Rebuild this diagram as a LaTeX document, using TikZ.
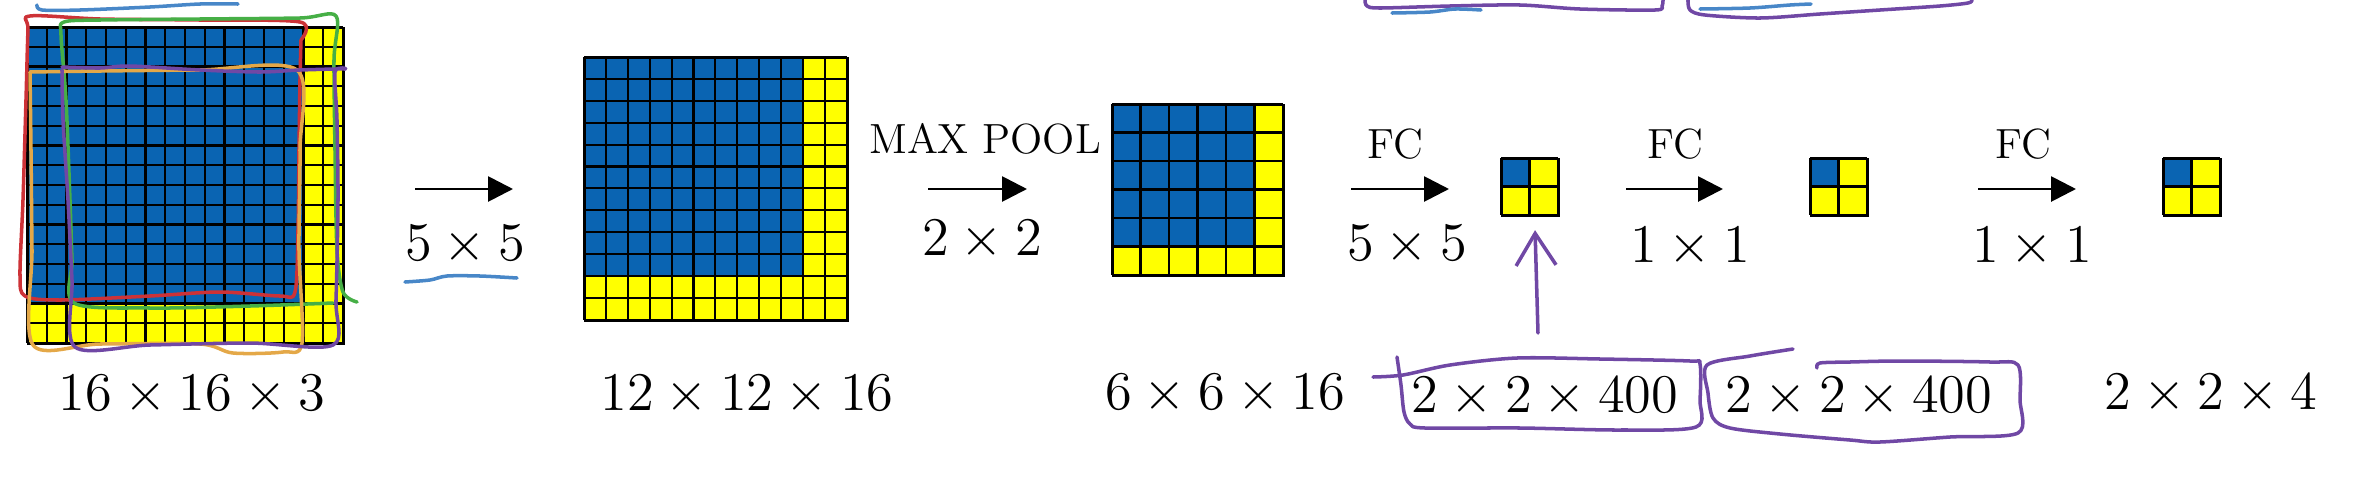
\RequirePackage{fix-cm}
\documentclass[tikz,border=0pt]{standalone}
\usepackage{amsmath}
\usepackage{tikz}
\usetikzlibrary{arrows.meta, positioning}
\usepackage{xcolor}

\definecolor{mapblue}{RGB}{10,100,178}
\definecolor{mapyellow}{RGB}{255,255,0}
\definecolor{penred}{RGB}{205,50,55}
\definecolor{pengreen}{RGB}{70,175,70}
\definecolor{penorange}{RGB}{228,168,72}
\definecolor{penpurple}{RGB}{112,72,165}
\definecolor{penblue}{RGB}{72,135,200}

\begin{document}
\begin{tikzpicture}[
        x=0.1mm, y=-0.1mm,
        cellline/.style={
          draw=black,
          line width=0.6pt
        },
        fmap/.style={
          rectangle,
          inner sep=0pt,
          draw=black,
          line width=0.6pt
        },
        arrow/.style={
          -{Triangle[length=2.5mm, width=2.5mm]},
          line width=0.8pt
        },
        dimlabel/.style={
          anchor=base,
          font=\fontsize{15.5}{18}\selectfont
        },
        oplabel/.style={
          anchor=base,
          font=\fontsize{12}{14}\selectfont
        },
        pen/.style={
          line width=1pt,
          line cap=round,
          line join=round
        }
      ]

      \useasboundingbox (0,0) rectangle (2378,484);

      % Feature maps: name / left / top / cells / cell size / blue cells
      \foreach \fm/\gx/\gy/\n/\s/\nb in {input/27/27/16/19.75/14, conv/584/57/12/21.9/10, pool/1112/104/6/28.5/5, fcone/1501/158/2/28.5/1, fctwo/1810/158/2/28.5/1, output/2163/158/2/28.5/1}{
        \fill[mapyellow] (\gx,\gy) rectangle ++(\n*\s,\n*\s);
        \fill[mapblue] (\gx,\gy) rectangle ++(\nb*\s,\nb*\s);
        \foreach \ii in {0,...,\n}{
          \draw[cellline] (\gx+\ii*\s,\gy) -- ++(0,\n*\s);
          \draw[cellline] (\gx,\gy+\ii*\s) -- ++(\n*\s,0);
        }
        \node[fmap, anchor=north west, minimum size=\n*\s*0.1mm] (\fm) at (\gx,\gy) {};
      }

      % Sizes
      \node[dimlabel] (dinput) at (192,410) {$16 \times 16 \times 3$};
      \node[dimlabel] (dconv) at (747,410) {$12 \times 12 \times 16$};
      \node[dimlabel] (dpool) at (1225,409) {$6 \times 6 \times 16$};
      \node[dimlabel] (dfcone) at (1545,412) {$2 \times 2 \times 400$};
      \node[dimlabel] (dfctwo) at (1859,412) {$2 \times 2 \times 400$};
      \node[dimlabel] (doutput) at (2211,409) {$2 \times 2 \times 4$};

      % Operations
      \coordinate (a1s) at (415,189);  \coordinate (a1e) at (513,189);
      \coordinate (a2s) at (928,189);  \coordinate (a2e) at (1027,189);
      \coordinate (a3s) at (1351,189); \coordinate (a3e) at (1449,189);
      \coordinate (a4s) at (1626,189); \coordinate (a4e) at (1723,189);
      \coordinate (a5s) at (1978,189); \coordinate (a5e) at (2076,189);

      \draw[arrow] (a1s) -- (a1e);
      \draw[arrow] (a2s) -- (a2e);
      \draw[arrow] (a3s) -- (a3e);
      \draw[arrow] (a4s) -- (a4e);
      \draw[arrow] (a5s) -- (a5e);

      \node[dimlabel] (kconv) at (465,260) {$5 \times 5$};
      \node[oplabel] (maxpool) at (985,153) {MAX POOL};
      \node[dimlabel] (kpool) at (982,255) {$2 \times 2$};
      \node[oplabel] (fca) at (1395,158) {FC};
      \node[dimlabel] (kfca) at (1407,260) {$5 \times 5$};
      \node[oplabel] (fcb) at (1675,158) {FC};
      \node[dimlabel] (kfcb) at (1690,262) {$1 \times 1$};
      \node[oplabel] (fcc) at (2023,158) {FC};
      \node[dimlabel] (kfcc) at (2032,262) {$1 \times 1$};

      % Pen marks on the input
      \draw[pen, penblue] plot[smooth, tension=0.5] coordinates {(37,5) (42,10) (80,10) (150,7) (200,4) (238,4)};
      \draw[pen, penred] plot[smooth, tension=0.5] coordinates {(301,40) (300,22) (200,20) (100,19) (30,16) (28,30) (26,100) (23,200) (20,275) (25,296) (60,300) (150,296) (220,292) (280,296) (295,292) (298,230) (299,150) (300,80) (301,40)};
      \draw[pen, pengreen] plot[smooth, tension=0.5] coordinates {(357,302) (343,292) (337,250) (335,150) (334,60) (336,16) (300,18) (200,19) (100,20) (64,22) (61,35) (66,100) (70,200) (72,260) (74,303) (150,308) (250,306) (333,303)};
      \draw[pen, penorange] plot[smooth, tension=0.5] coordinates {(30,72) (100,71) (200,70) (297,70) (300,150) (299,250) (302,343) (283,352) (233,353) (200,344) (100,344) (33,345) (32,250) (31,150) (30,72)};
      \draw[pen, penpurple] plot[smooth, tension=0.5] coordinates {(62,67) (100,68) (130,66) (200,70) (260,72) (300,70) (345,69) (335,72) (337,120) (338,200) (336,300) (333,345) (250,343) (150,345) (75,347) (72,280) (68,200) (63,120) (62,70)};
      \draw[pen, penblue] plot[smooth, tension=0.5] coordinates {(405,282) (430,280) (447,276) (480,276) (517,278)};

      % Pen marks on the FC sizes
      \draw[pen, penpurple] plot[smooth, tension=0.5] coordinates {(1397,357) (1401,385) (1404,412) (1410,424) (1425,428) (1520,428) (1620,430) (1696,427) (1700,400) (1700,364) (1690,361) (1600,359) (1517,358) (1450,365) (1403,375) (1373,377)};
      \draw[pen, penpurple] plot[smooth, tension=0.5] coordinates {(1793,349) (1750,356) (1707,365) (1708,393) (1713,418) (1730,428) (1780,434) (1850,440) (1880,442) (1950,437) (2018,433) (2020,400) (2018,365) (1990,362) (1900,361) (1850,362) (1820,363) (1817,368)};
      \coordinate (hint) at (1538,333);
      \draw[pen, penpurple, -{Straight Barb[length=3.2mm, width=4mm]}] (hint) -- ([xshift=0.45mm, yshift=-1.3mm]fcone.south);

      % Pen marks cut at the top
      \draw[pen, penpurple] plot[smooth, tension=0.5] coordinates {(1365,0) (1367,6) (1380,8) (1450,6) (1520,5) (1580,9) (1655,10) (1662,6) (1663,0)};
      \draw[pen, penblue] plot[smooth, tension=0.5] coordinates {(1392,13) (1430,12) (1455,9) (1481,10)};
      \draw[pen, penpurple] plot[smooth, tension=0.5] coordinates {(1688,0) (1690,10) (1705,15) (1760,18) (1820,14) (1880,10) (1940,6) (1968,3) (1972,0)};
      \draw[pen, penblue] plot[smooth, tension=0.5] coordinates {(1700,9) (1750,8) (1790,5) (1811,4)};

    \end{tikzpicture}
\end{document}
